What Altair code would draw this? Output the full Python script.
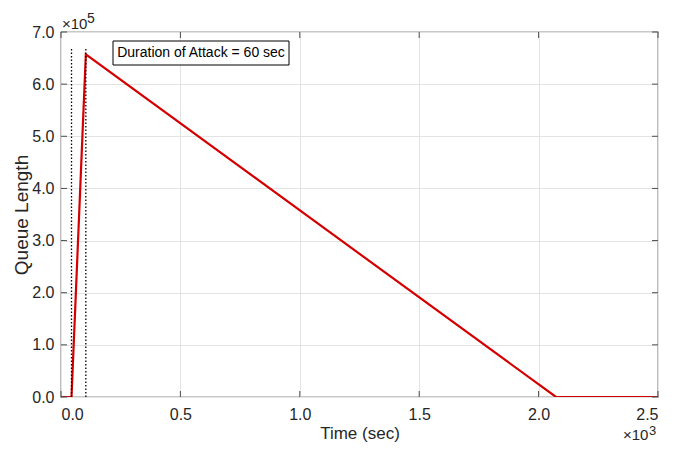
import altair as alt
import pandas as pd

# ---- data ----
time_s = [0, 44, 104, 2073, 2500]
queue_len = [0, 0, 657000, 0, 0]
attack_marks = [44, 104]          # dotted vertical lines (start/end of attack)
attack_mark_top = 670000
attack_duration = 60
x_ticks = [0, 500, 1000, 1500, 2000, 2500]
y_ticks = [0, 100000, 200000, 300000, 400000, 500000, 600000, 700000]

W, H = 597, 365
FONT = "Liberation Sans, Arial, Helvetica"
TXT = "#262626"

line_df = pd.DataFrame({"t": time_s, "q": queue_len})
xt_df = pd.DataFrame({"t": x_ticks})
yt_df = pd.DataFrame({"q": y_ticks})
dot_df = pd.DataFrame({
    "t": attack_marks,
    "q0": [0] * len(attack_marks),
    "q1": [attack_mark_top] * len(attack_marks),
})
label_df = pd.DataFrame({"label": [f"Duration of Attack = {attack_duration} sec"]})
exp_df = pd.DataFrame({"base": ["×10"], "ex": ["5"], "ex2": ["3"]})

xscale = alt.Scale(domain=[0, 2500], nice=False, zero=False)
yscale = alt.Scale(domain=[0, 700000], nice=False)

xaxis = alt.Axis(values=x_ticks, labelExpr="format(datum.value/1000, '.1f')",
                 title="Time (sec)", ticks=False, domain=False, grid=True,
                 gridColor="#e3e3e3", labelFont=FONT, labelFontSize=16,
                 labelColor=TXT, labelPadding=9, titleFont=FONT,
                 titleFontSize=17, titleFontWeight="normal", titleColor=TXT,
                 titlePadding=3)
yaxis = alt.Axis(values=y_ticks, labelExpr="format(datum.value/100000, '.1f')",
                 title="Queue Length", ticks=False, domain=False, grid=True,
                 gridColor="#e3e3e3", labelFont=FONT, labelFontSize=16,
                 labelColor=TXT, labelPadding=7, titleFont=FONT,
                 titleFontSize=19, titleFontWeight="normal", titleColor=TXT,
                 titlePadding=0)

base_line = alt.Chart(line_df).mark_line(color="#d40000", strokeWidth=2.2, clip=True).encode(
    x=alt.X("t:Q", scale=xscale, axis=xaxis),
    y=alt.Y("q:Q", scale=yscale, axis=yaxis),
)

dotted = alt.Chart(dot_df).mark_rule(color="black", strokeWidth=1.3, strokeDash=[1.5, 2]).encode(
    x=alt.X("t:Q", scale=xscale),
    y=alt.Y("q0:Q", scale=yscale),
    y2="q1:Q",
)

tick_color = "#4d4d4d"
xt_bottom = alt.Chart(xt_df).mark_rule(color=tick_color).encode(
    x=alt.X("t:Q", scale=xscale), y=alt.value(H), y2=alt.value(H - 6))
xt_top = alt.Chart(xt_df).mark_rule(color=tick_color).encode(
    x=alt.X("t:Q", scale=xscale), y=alt.value(0), y2=alt.value(6))
yt_left = alt.Chart(yt_df).mark_rule(color=tick_color).encode(
    y=alt.Y("q:Q", scale=yscale), x=alt.value(0), x2=alt.value(6))
yt_right = alt.Chart(yt_df).mark_rule(color=tick_color).encode(
    y=alt.Y("q:Q", scale=yscale), x=alt.value(W), x2=alt.value(W - 6))

box = alt.Chart(label_df).mark_rect(fill="white", stroke="black", strokeWidth=1).encode(
    x=alt.value(52), x2=alt.value(228), y=alt.value(9), y2=alt.value(33))
box_text = alt.Chart(label_df).mark_text(font=FONT, fontSize=14, color="black",
                                         align="center", baseline="middle").encode(
    x=alt.value(140), y=alt.value(21), text="label:N")

exp_y_base = alt.Chart(exp_df).mark_text(font=FONT, fontSize=15, color=TXT,
                                          align="left", baseline="alphabetic").encode(
    x=alt.value(1), y=alt.value(-3), text="base:N")
exp_y_ex = alt.Chart(exp_df).mark_text(font=FONT, fontSize=14, color=TXT,
                                        align="left", baseline="alphabetic").encode(
    x=alt.value(26), y=alt.value(-9), text="ex:N")
exp_x_base = alt.Chart(exp_df).mark_text(font=FONT, fontSize=15, color=TXT,
                                          align="left", baseline="alphabetic").encode(
    x=alt.value(562), y=alt.value(H + 43), text="base:N")
exp_x_ex = alt.Chart(exp_df).mark_text(font=FONT, fontSize=13, color=TXT,
                                        align="left", baseline="alphabetic").encode(
    x=alt.value(588), y=alt.value(H + 38), text="ex2:N")

chart = alt.layer(
    base_line, dotted, xt_bottom, xt_top, yt_left, yt_right,
    box, box_text, exp_y_base, exp_y_ex, exp_x_base, exp_x_ex,
).properties(
    width=W, height=H,
    autosize=alt.AutoSizeParams(type="none"),
    padding={"left": 53, "top": 24, "right": 30, "bottom": 45},
).configure_view(stroke="#262626", strokeWidth=1.2)

chart.save("out.html", embed_options={"renderer": "svg", "actions": False})
